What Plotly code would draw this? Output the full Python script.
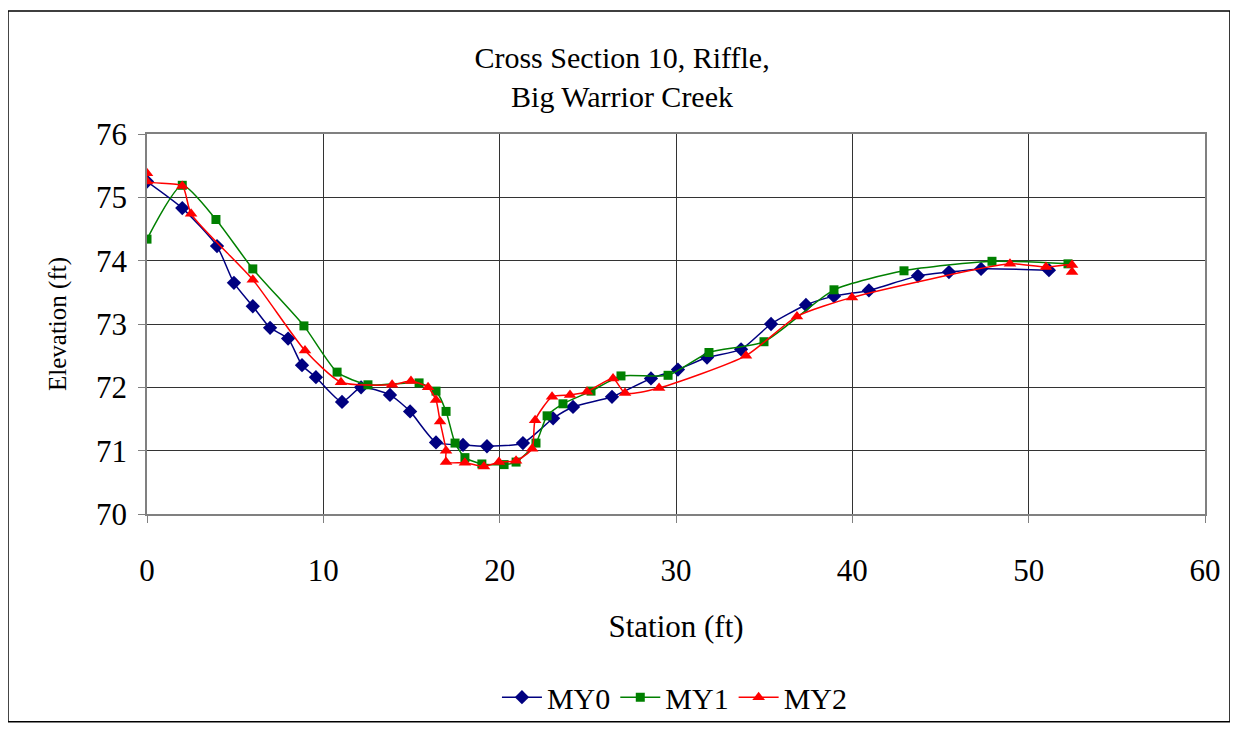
import plotly.graph_objects as go

# station / elevation
my0_x = [0, 2.0, 3.97, 4.93, 6.0, 6.98, 8.0, 8.79, 9.58, 11.06, 12.14, 13.78, 14.92, 16.39,
         17.92, 19.28, 21.32, 23.03, 24.16, 26.37, 28.58, 30.11, 31.76, 33.69, 35.39, 37.37,
         38.96, 40.94, 43.72, 45.48, 47.3, 51.15]
my0_y = [75.25, 74.83, 74.23, 73.65, 73.28, 72.94, 72.77, 72.35, 72.16, 71.77, 72.0, 71.88,
         71.62, 71.13, 71.09, 71.07, 71.12, 71.51, 71.69, 71.85, 72.14, 72.28, 72.47, 72.6,
         73.0, 73.3, 73.44, 73.53, 73.76, 73.82, 73.87, 73.85]

my1_x = [0, 2.0, 3.91, 6.0, 8.9, 10.78, 12.53, 15.43, 16.39, 16.96, 17.47, 18.03, 18.99, 20.25,
         20.93, 22.06, 22.69, 23.59, 25.18, 26.88, 29.55, 31.87, 34.99, 38.96, 42.93, 47.92, 52.23]
my1_y = [74.34, 75.19, 74.65, 73.87, 72.97, 72.24, 72.04, 72.07, 71.94, 71.62, 71.12, 70.89,
         70.79, 70.78, 70.82, 71.12, 71.55, 71.74, 71.94, 72.18, 72.19, 72.55, 72.72, 73.54,
         73.84, 73.99, 73.95]

my2_x = [0, 0, 2.0, 2.5, 6.0, 8.96, 11.0, 13.9, 14.97, 15.94, 16.39, 16.62, 16.96, 16.96, 18.03,
         19.11, 19.96, 20.93, 21.84, 22.01, 22.97, 23.99, 24.95, 26.43, 27.11, 29.04, 33.97,
         36.86, 39.98, 48.94, 50.98, 52.46, 52.46]
my2_y = [75.38, 75.25, 75.18, 74.74, 73.70, 72.58, 72.08, 72.04, 72.1, 72.0, 71.8, 71.46, 71.0,
         70.82, 70.81, 70.75, 70.82, 70.84, 71.03, 71.48, 71.85, 71.88, 71.93, 72.14, 71.91,
         71.99, 72.5, 73.12, 73.42, 73.95, 73.9, 73.93, 73.82]

serif = "Liberation Serif"

fig = go.Figure()
series = [("MY0", my0_x, my0_y, "#000080", "diamond", 11),
          ("MY1", my1_x, my1_y, "#008000", "square", 9),
          ("MY2", my2_x, my2_y, "#FF0000", "triangle-up", 11)]
for name, xs, ys, col, sym, sz in series:
    fig.add_trace(go.Scatter(x=xs, y=ys, name=name, mode="lines+markers",
                             line=dict(color=col, width=1.5, shape="spline", smoothing=0.6),
                             marker=dict(symbol=sym, size=sz, color=col)))

# outer chart border
fig.add_shape(type="rect", xref="paper", yref="paper", x0=-0.1314, x1=1.0236, y0=-0.5466, y1=1.3238,
              line=dict(color="black", width=1.5), layer="below")

fig.update_layout(
    width=1230, height=727,
    paper_bgcolor="white", plot_bgcolor="white",
    margin=dict(l=139, r=33, t=126, b=215),
    font=dict(family=serif, color="black", size=30),
    title=dict(text="Cross Section 10, Riffle,<br>Big Warrior Creek", x=0.4992, xref="container",
               xanchor="center", y=0.917, yanchor="middle", font=dict(size=30, family=serif)),
    xaxis=dict(range=[0, 60], dtick=10, showgrid=True, gridcolor="#333333", gridwidth=1,
               zeroline=False, showline=True, linecolor="#808080", linewidth=1.5, mirror=True,
               ticks="outside", ticklen=7, tickcolor="#808080", ticklabelstandoff=21, automargin=False,
               tickfont=dict(size=31), title=dict(text="Station (ft)", font=dict(size=31), standoff=28)),
    yaxis=dict(range=[70, 76], dtick=1, showgrid=True, gridcolor="#333333", gridwidth=1,
               zeroline=False, showline=True, linecolor="#808080", linewidth=1.5, mirror=True,
               ticks="outside", ticklen=7, tickcolor="#808080", ticklabelstandoff=5, automargin=False,
               tickfont=dict(size=31), title=dict(text="Elevation (ft)", font=dict(size=25), standoff=22)),
    legend=dict(orientation="h", x=0.499, xanchor="center", y=-0.482, yanchor="middle",
                font=dict(size=30), itemwidth=40, tracegroupgap=0, bgcolor="rgba(0,0,0,0)"),
    showlegend=True,
)

fig.write_html("out.html")
